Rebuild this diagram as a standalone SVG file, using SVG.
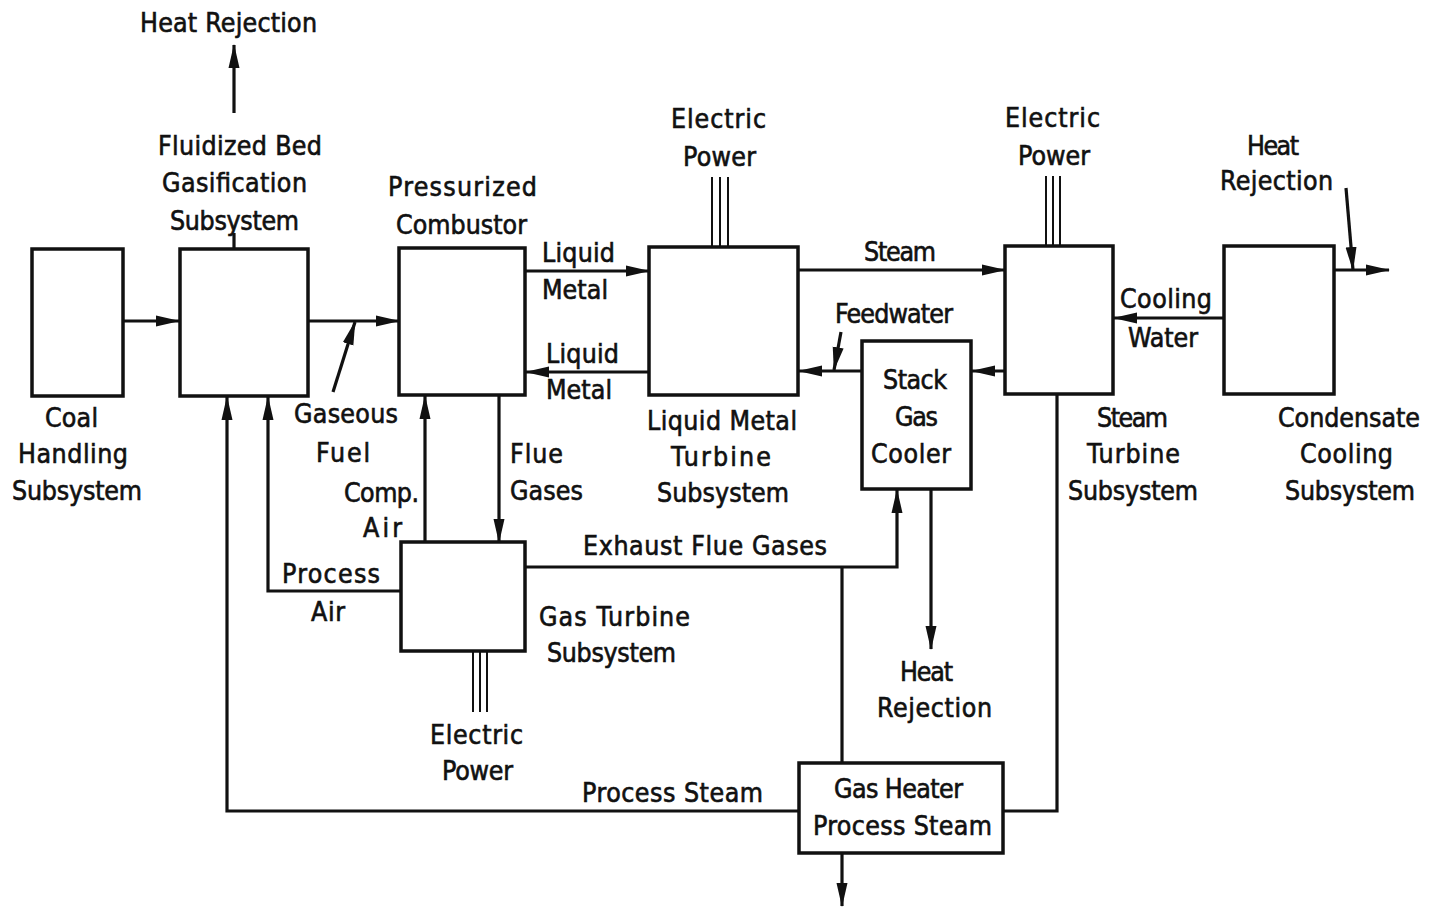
<svg xmlns="http://www.w3.org/2000/svg" width="1432" height="909" viewBox="0 0 1432 909">
<style>
text{font-family:"DejaVu Sans Condensed","DejaVu Sans","Liberation Sans",sans-serif;font-stretch:condensed;font-size:26.5px;fill:#111;stroke:#111;stroke-width:0.6}
.m{text-anchor:middle}
.box{fill:#fff;stroke:#111;stroke-width:3.5}
.ln{fill:none;stroke:#111;stroke-width:3.2}
.ep{fill:none;stroke:#111;stroke-width:2}
</style>
<defs>
<marker id="ah" markerUnits="userSpaceOnUse" markerWidth="24" markerHeight="12" refX="23" refY="6" orient="auto">
<path d="M0,0.5 L24,6 L0,11.5 Z" fill="#111"/>
</marker>
</defs>
<rect width="1432" height="909" fill="#fff"/>

<g id="connectors">
<line class="ln" x1="234" y1="113" x2="234" y2="45" marker-end="url(#ah)"/>
<line class="ln" x1="234" y1="233" x2="234" y2="249"/>
<line class="ln" x1="123" y1="321" x2="179" y2="321" marker-end="url(#ah)"/>
<line class="ln" x1="308" y1="321" x2="399" y2="321" marker-end="url(#ah)"/>
<line class="ln" x1="333" y1="392" x2="355" y2="322" marker-end="url(#ah)"/>
<line class="ln" x1="525" y1="271" x2="649" y2="271" marker-end="url(#ah)"/>
<line class="ln" x1="649" y1="372" x2="526" y2="372" marker-end="url(#ah)"/>
<line class="ln" x1="798" y1="270" x2="1005" y2="270" marker-end="url(#ah)"/>
<line class="ln" x1="1224" y1="318" x2="1114" y2="318" marker-end="url(#ah)"/>
<line class="ln" x1="1334" y1="270" x2="1389" y2="270" marker-end="url(#ah)"/>
<line class="ln" x1="1346" y1="188" x2="1353" y2="270" marker-end="url(#ah)"/>
<line class="ln" x1="1005" y1="371" x2="972" y2="371" marker-end="url(#ah)"/>
<line class="ln" x1="862" y1="371" x2="799" y2="371" marker-end="url(#ah)"/>
<line class="ln" x1="841" y1="332" x2="834" y2="370" marker-end="url(#ah)"/>
<polyline class="ln" points="525,567 897,567 897,490" marker-end="url(#ah)"/>
<line class="ln" x1="842" y1="567" x2="842" y2="763"/>
<line class="ln" x1="931" y1="489" x2="931" y2="649" marker-end="url(#ah)"/>
<line class="ln" x1="842" y1="853" x2="842" y2="906" marker-end="url(#ah)"/>
<polyline class="ln" points="1003,811 1057,811 1057,395"/>
<polyline class="ln" points="799,811 227,811 227,397" marker-end="url(#ah)"/>
<polyline class="ln" points="401,591 268,591 268,397" marker-end="url(#ah)"/>
<line class="ln" x1="425" y1="542" x2="425" y2="396" marker-end="url(#ah)"/>
<line class="ln" x1="499" y1="396" x2="499" y2="542" marker-end="url(#ah)"/>
<g class="ep">
<line x1="712" y1="177" x2="712" y2="247"/><line x1="720" y1="177" x2="720" y2="247"/><line x1="728" y1="177" x2="728" y2="247"/>
<line x1="1046" y1="176" x2="1046" y2="246"/><line x1="1053" y1="176" x2="1053" y2="246"/><line x1="1060" y1="176" x2="1060" y2="246"/>
<line x1="473" y1="651" x2="473" y2="712"/><line x1="480" y1="651" x2="480" y2="712"/><line x1="487" y1="651" x2="487" y2="712"/>
</g>
</g>

<g id="coal-handling">
<rect class="box" x="32" y="249" width="91" height="147"/>
<text class="m" x="71.5" y="427" textLength="53">Coal</text>
<text class="m" x="73" y="463" textLength="110">Handling</text>
<text class="m" x="77" y="500" textLength="130">Subsystem</text>
</g>

<g id="fluidized-bed">
<rect class="box" x="180" y="249" width="128" height="147"/>
<text class="m" x="240" y="155" textLength="164">Fluidized Bed</text>
<text class="m" x="234.5" y="192" textLength="145">Gasification</text>
<text class="m" x="234.5" y="230" textLength="129">Subsystem</text>
</g>

<g id="heat-rejection-top">
<text class="m" x="228.5" y="32" textLength="177">Heat Rejection</text>
</g>

<g id="combustor">
<rect class="box" x="399" y="248" width="126" height="147"/>
<text class="m" x="462.5" y="196" textLength="149">Pressurized</text>
<text class="m" x="461.5" y="234" textLength="131">Combustor</text>
</g>

<g id="lm-turbine">
<rect class="box" x="649" y="247" width="149" height="148"/>
<text class="m" x="718.5" y="128" textLength="95">Electric</text>
<text class="m" x="719.5" y="166" textLength="73">Power</text>
<text class="m" x="722" y="430" textLength="150">Liquid Metal</text>
<text class="m" x="721" y="466" textLength="100">Turbine</text>
<text class="m" x="723" y="502" textLength="132">Subsystem</text>
</g>

<g id="steam-turbine">
<rect class="box" x="1005" y="246" width="108" height="148"/>
<text class="m" x="1052.5" y="127" textLength="95">Electric</text>
<text class="m" x="1054" y="165" textLength="72">Power</text>
<text class="m" x="1132.5" y="427" textLength="71">Steam</text>
<text class="m" x="1133.5" y="463" textLength="93">Turbine</text>
<text class="m" x="1133" y="500" textLength="130">Subsystem</text>
</g>

<g id="condensate-cooling">
<rect class="box" x="1224" y="246" width="110" height="148"/>
<text class="m" x="1273" y="155" textLength="52">Heat</text>
<text class="m" x="1276.5" y="190" textLength="113">Rejection</text>
<text class="m" x="1349" y="427" textLength="142">Condensate</text>
<text class="m" x="1346.5" y="463" textLength="93">Cooling</text>
<text class="m" x="1350" y="500" textLength="130">Subsystem</text>
</g>

<g id="stack-gas-cooler">
<rect class="box" x="862" y="341" width="109" height="148"/>
<text class="m" x="915" y="389" textLength="64">Stack</text>
<text class="m" x="916.5" y="426" textLength="43">Gas</text>
<text class="m" x="911" y="463" textLength="80">Cooler</text>
<text class="m" x="926.5" y="681" textLength="53">Heat</text>
<text class="m" x="934.5" y="717" textLength="115">Rejection</text>
</g>

<g id="gas-turbine">
<rect class="box" x="401" y="542" width="124" height="109"/>
<text x="539" y="626" textLength="151">Gas Turbine</text>
<text x="547" y="662" textLength="129">Subsystem</text>
<text class="m" x="476.5" y="744" textLength="93">Electric</text>
<text class="m" x="477.5" y="780" textLength="71">Power</text>
</g>

<g id="gas-heater">
<rect class="box" x="799" y="763" width="204" height="90"/>
<text class="m" x="898.5" y="798" textLength="129">Gas Heater</text>
<text class="m" x="902.5" y="835" textLength="179">Process Steam</text>
</g>

<g id="labels">
<text x="542" y="262" textLength="73">Liquid</text>
<text x="542" y="299" textLength="66">Metal</text>
<text x="546" y="363" textLength="73">Liquid</text>
<text x="546" y="399" textLength="66">Metal</text>
<text x="864" y="261" textLength="72">Steam</text>
<text x="835" y="323" textLength="118">Feedwater</text>
<text x="1120" y="308" textLength="92">Cooling</text>
<text x="1128" y="347" textLength="70">Water</text>
<text x="294" y="423" textLength="104">Gaseous</text>
<text x="316" y="462" textLength="54">Fuel</text>
<text x="344" y="502" textLength="75">Comp.</text>
<text x="363" y="537" textLength="39">Air</text>
<text x="510" y="463" textLength="53">Flue</text>
<text x="510" y="500" textLength="73">Gases</text>
<text x="583" y="555" textLength="244">Exhaust Flue Gases</text>
<text x="282" y="583" textLength="98">Process</text>
<text x="311" y="621" textLength="34">Air</text>
<text x="582" y="802" textLength="181">Process Steam</text>
</g>
</svg>
